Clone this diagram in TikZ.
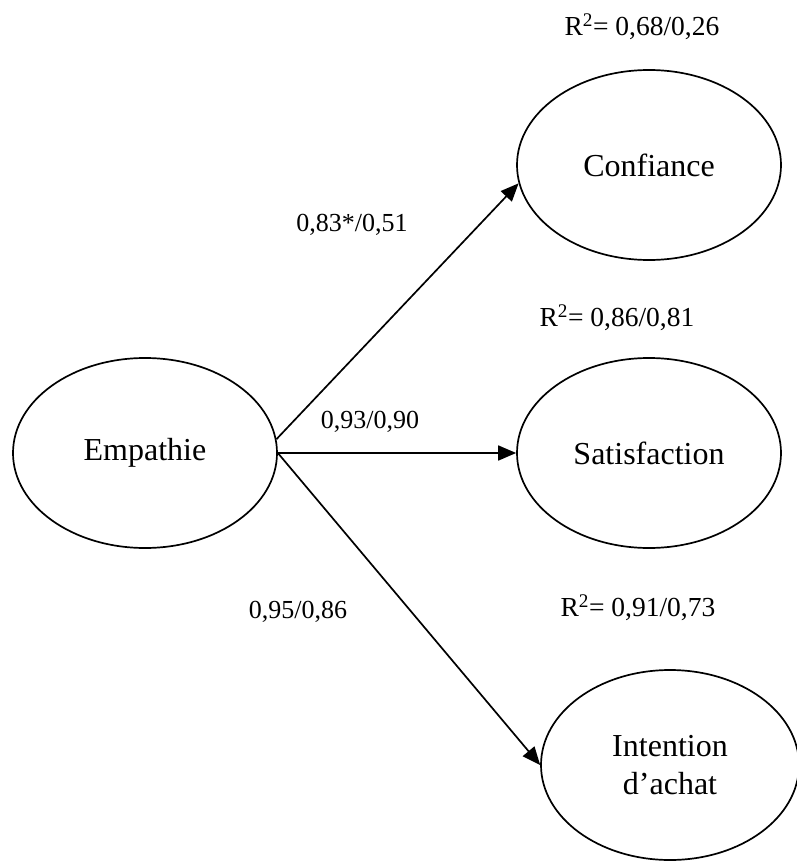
\documentclass[tikz,border=0pt]{standalone}
\usepackage{fontspec}
\setmainfont{Liberation Serif}
\usetikzlibrary{shapes.geometric,arrows.meta}
\tikzset{
  latent/.style={draw, ellipse, line width=1.7pt, inner sep=0pt,
    minimum width=264pt, minimum height=190pt, align=center,
    font=\fontsize{32}{38}\selectfont},
  path label/.style={font=\fontsize{26}{30}\selectfont, inner sep=0pt},
  rsq/.style={font=\fontsize{27.5}{32}\selectfont, inner sep=0pt},
  conn/.style={line width=1.7pt, -{Triangle[length=18pt,width=15pt]}}
}
\begin{document}
\begin{tikzpicture}[x=1pt,y=-1pt]
\useasboundingbox (0,0) rectangle (796,861);
\node[latent] (emp) at (145,453) {Empathie};
\node[latent] (conf) at (649,165) {Confiance};
\node[latent] (sat) at (649,453) {Satisfaction};
\node[latent, minimum width=258pt] (int) at (670,765) {Intention\\d’achat};
\node[rsq] (r1) at (642,27) {R\textsuperscript{2}= 0,68/0,26};
\node[rsq] (r2) at (617,318) {R\textsuperscript{2}= 0,86/0,81};
\node[rsq] (r3) at (638,608) {R\textsuperscript{2}= 0,91/0,73};
\node[path label] (l1) at (352,225) {0,83*/0,51};
\node[path label] (l2) at (370,422) {0,93/0,90};
\node[path label] (l3) at (298,612) {0,95/0,86};
\draw[conn] (emp.6.5) -- (conf.188.6);
\draw[conn] (emp.east) -- (sat.west);
\draw[conn] (emp.east) -- (int.west);
\end{tikzpicture}
\end{document}
